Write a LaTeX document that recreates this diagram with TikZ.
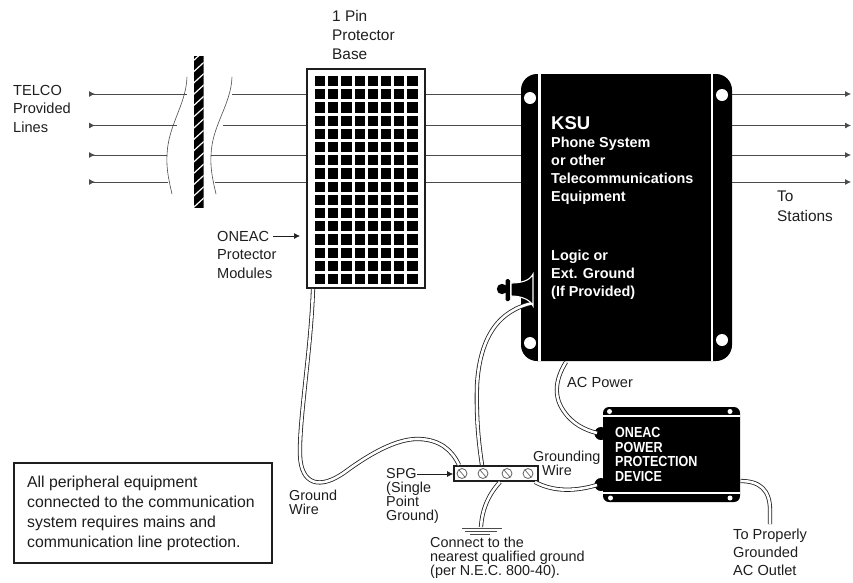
\documentclass[tikz,border=0pt]{standalone}
\usepackage{fontspec}
\setmainfont{Liberation Sans}
\usetikzlibrary{arrows.meta}
\definecolor{ink}{HTML}{1E1E1E}
\tikzset{
  lab/.style={anchor=north west,inner sep=0pt,align=left,text=ink},
  lab15/.style={lab,font=\fontsize{14.6}{18.3}\selectfont},
  labtight/.style={lab,font=\fontsize{14.4}{14}\selectfont},
  whitebold/.style={anchor=north west,inner sep=0pt,align=left,text=white,font=\bfseries\fontsize{14.4}{18}\selectfont},
  wire/.style={draw=ink,line width=.8pt,double=white,double distance=2.6pt},
  thin line/.style={draw=ink!80,line width=.8pt},
  lineout/.style={thin line,-{Latex[length=6pt,width=6pt]}},
  linein/.style={thin line,{Latex[reversed,length=6pt,width=6pt]}-},
  breakline/.style={draw=ink!80,line width=.6pt},
  hole/.style={circle,fill=white,inner sep=0pt,minimum size=12pt},
  tinyhole/.style={circle,fill=white,inner sep=0pt,minimum size=5pt},
  bump/.style={circle,fill=black,inner sep=0pt,minimum size=13pt},
  screw/.style={circle,draw=ink!70,fill=white,line width=.8pt,inner sep=0pt,minimum size=10pt},
  cell/.style={fill=black},
  divider/.style={draw=white,line width=2.4pt},
  pointer/.style={draw=ink,line width=.7pt,-{Latex[length=6pt,width=6pt]}},
}
\begin{document}
\begin{tikzpicture}[x=1pt,y=-1pt]
\useasboundingbox (0,0) rectangle (853,582);

% named free ends
\coordinate (in1) at (89,94);
\coordinate (in2) at (89,125.5);
\coordinate (in3) at (89,155);
\coordinate (in4) at (89,182);
\coordinate (out1) at (851,94);
\coordinate (out2) at (851,125.5);
\coordinate (out3) at (851,155);
\coordinate (out4) at (851,182);
\coordinate (gl) at (481,527);

% main blocks
\node[draw=ink,line width=2pt,fill=white,minimum width=118pt,minimum height=219pt,inner sep=0pt] (base) at (366,178.5) {};
\node[fill=black,rounded corners=16pt,minimum width=211pt,minimum height=287pt,inner sep=0pt] (ksu) at (626.5,217.5) {};
\node[fill=black,rounded corners=6pt,minimum width=137pt,minimum height=95pt,inner sep=0pt] (dev) at (671.5,454.5) {};
\node[draw=ink,line width=1.8pt,fill=white,minimum width=84pt,minimum height=15pt,inner sep=0pt] (spg) at (496,473.5) {};

% telephone lines, left part
\draw[linein] (in1) -- (187,94);
\draw[linein] (in2) -- (177,125.5);
\draw[linein] (in3) -- (167,155);
\draw[linein] (in4) -- (168,182);
\draw[thin line] (232,94) -- (base.west |- in1);
\draw[thin line] (223,125.5) -- (base.west |- in2);
\draw[thin line] (211,155) -- (base.west |- in3);
\draw[thin line] (215,182) -- (base.west |- in4);
\draw[thin line] (base.east |- in1) -- (ksu.west |- in1);
\draw[thin line] (base.east |- in2) -- (ksu.west |- in2);
\draw[thin line] (base.east |- in3) -- (ksu.west |- in3);
\draw[thin line] (base.east |- in4) -- (ksu.west |- in4);
\draw[lineout] (ksu.east |- out1) -- (out1);
\draw[lineout] (ksu.east |- out2) -- (out2);
\draw[lineout] (ksu.east |- out3) -- (out3);
\draw[lineout] (ksu.east |- out4) -- (out4);

% cable break marks
\draw[breakline] (187,77) .. controls (186,105) and (168,125) .. (167,155) .. controls (166,170) and (170,185) .. (172,194);
\draw[breakline] (232,77) .. controls (231,105) and (212,125) .. (211,155) .. controls (210,170) and (214,185) .. (216,194);

% hatched bar
\begin{scope}
  \clip (194,56) rectangle (203.5,208);
  \fill[black] (194,56) rectangle (203.5,208);
  \foreach \yy in {61,72.3,...,216} {
    \draw[white,line width=1.2pt] (193,\yy) -- (205,\yy-11);
  }
\end{scope}

% protector modules
\foreach \cc in {0,...,7} {
  \foreach \rr in {0,...,15} {
    \fill[cell] ({315+13.2*\cc},{76+13.2*\rr}) rectangle +(10.2,10.2);
  }
}

% KSU details
\draw[divider] (539.5,74) -- (539.5,361);
\draw[divider] (712,74) -- (712,361);
\node[hole] (h1) at (530,98) {};
\node[hole] (h2) at (722,95) {};
\node[hole] (h3) at (530,343) {};
\node[hole] (h4) at (722,340) {};

% power device details
\draw[divider] (603,416) -- (740,416);
\draw[divider] (603,493) -- (740,493);
\node[tinyhole] (d1) at (609.5,411.5) {};
\node[tinyhole] (d2) at (730,411.5) {};
\node[tinyhole] (d3) at (610.5,498) {};
\node[tinyhole] (d4) at (730,498) {};
\node[bump] (bumpa) at (601,433.5) {};
\node[bump] (bumpb) at (601,484.5) {};

% wires
\coordinate (lug) at (533,303);
\draw[wire] (313,289) .. controls (311,350) and (299,420) .. (300,455) .. controls (301,485) and (320,490) .. (345,472) .. controls (375,450) and (400,438) .. (420,439) .. controls (440,440) and (452,450) .. (459,465);
\draw[wire] (lug) .. controls (500,310) and (480,335) .. (477,385) .. controls (476,420) and (479,445) .. (482,465);
\draw[wire] (566,362) .. controls (556,378) and (553,395) .. (563,410) .. controls (572,424) and (585,430) .. (597,433);
\draw[wire] (535,482) .. controls (550,490) and (570,493) .. (597,485);
\draw[wire] (500,482) .. controls (488,495) and (482,510) .. (gl);
\draw[wire] (740.5,481) .. controls (760,481) and (770,490) .. (770,510) -- (770,524);

% ground symbol
\draw[thin line] (462,528) -- (502,528);
\draw[thin line] (465,531) -- (497,531);
\draw[thin line] (470,534) -- (490,534);

% screws
\foreach \nm/\xx in {s1/462,s2/483,s3/507,s4/528} {
  \node[screw] (\nm) at (\xx,473.5) {};
  \draw[ink!70,line width=.7pt] (\xx-3,470) -- (\xx+3,477);
}

% ground lug on KSU
\fill[black] (502,289) circle (5.2);
\fill[black,rounded corners=1.5pt] (505.5,279) rectangle (510,301);
\draw[white,fill=black,line width=1.1pt] (511,283) .. controls (520,283) and (530,281) .. (533,274) -- (533,306) .. controls (530,299) and (520,296) .. (511,296) -- cycle;

% labels
\node[lab15] (telco) at (13,85) {TELCO\\Provided\\Lines};
\node[lab,font=\fontsize{15.4}{19}\selectfont] (pinbase) at (332,10) {1 Pin\\Protector\\Base};
\node[lab15] (modules) at (217,231) {ONEAC\\Protector\\Modules};
\node[lab,font=\fontsize{15.4}{20}\selectfont] (stations) at (777,191) {To\\Stations};
\node[lab15] (ac) at (567,377) {AC Power};
\node[labtight] (gw) at (289,490) {Ground\\Wire};
\node[labtight] (spgt) at (386,468) {SPG\\(Single\\Point\\Ground)};
\node[labtight] (grw) at (533,451) {Grounding\\\hspace*{9pt}Wire};
\node[labtight] (conn) at (430,537) {Connect to the\\nearest qualified ground\\(per N.E.C. 800-40).};
\node[lab15,font=\fontsize{14.6}{18}\selectfont] (outlet) at (733,529) {To Properly\\Grounded\\AC Outlet};

\node[whitebold,font=\bfseries\fontsize{18.5}{20}\selectfont] (ksut) at (551,116) {KSU};
\node[whitebold] (ksub) at (551,137) {Phone System\\or other\\Telecommunications\\Equipment};
\node[whitebold] (ksuc) at (551,250) {Logic or\\Ext. Ground\\(If Provided)};
\node[whitebold,font=\bfseries\fontsize{14.6}{14.7}\selectfont,xscale=.86,anchor=north west] (devt) at (615,427) {ONEAC\\POWER\\PROTECTION\\DEVICE};

% arrows to named targets
\coordinate (a1) at (300,236);
\draw[pointer] (273,236) -- (a1);
\draw[pointer] (417,474) -- (spg.west |- 0,474);

% note
\node[draw=ink,line width=2pt,fill=white,minimum width=258pt,minimum height=100pt,inner sep=0pt] (note) at (143,513) {};
\node[lab,font=\fontsize{15.8}{20}\selectfont] (notet) at (27,476) {All peripheral equipment\\connected to the communication\\system requires mains and\\communication line protection.};
\end{tikzpicture}
\end{document}
